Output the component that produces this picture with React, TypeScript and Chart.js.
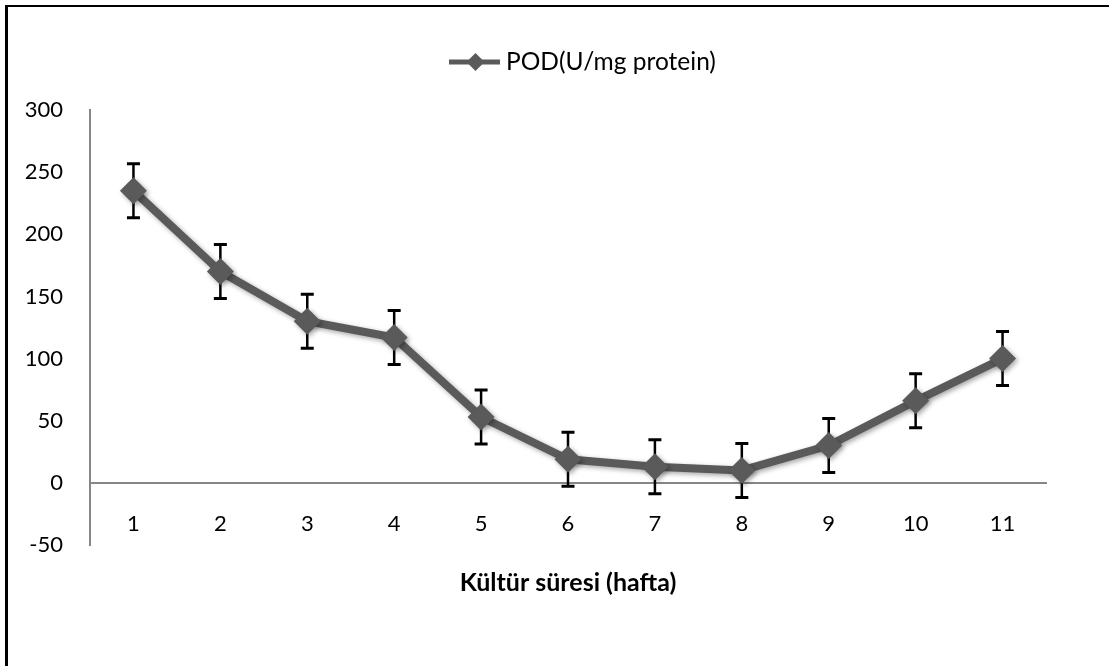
import React, { useEffect, useRef } from "react";
import { Chart, registerables } from "chart.js";

Chart.register(...registerables);

// Culture duration in weeks
const weeks = ["1", "2", "3", "4", "5", "6", "7", "8", "9", "10", "11"];
// POD activity (U/mg protein)
const podValues = [235, 170, 130, 117, 53, 19, 13, 10, 30, 66, 100];
// Standard deviation for each week
const podErrors = [21.7, 21.7, 21.7, 21.7, 21.7, 21.7, 21.7, 21.7, 21.7, 21.7, 21.7];

const seriesLabel = "POD(U/mg protein)";
const xTitle = "Kültür süresi (hafta)";

const FONT = "Lato, 'Open Sans', sans-serif";
const SERIES_COLOR = "#5a5a5a";

// Vertical error bars with caps, drawn under the line and markers
const errorBars = {
  id: "errorBars",
  beforeDatasetsDraw(chart: any) {
    const { ctx, scales } = chart;
    const meta = chart.getDatasetMeta(0);
    ctx.save();
    ctx.strokeStyle = "#000";
    meta.data.forEach((pt: any, i: number) => {
      const x = pt.x;
      const top = scales.y.getPixelForValue(podValues[i] + podErrors[i]);
      const bot = scales.y.getPixelForValue(podValues[i] - podErrors[i]);
      ctx.lineWidth = 2.5;
      ctx.beginPath();
      ctx.moveTo(x, top);
      ctx.lineTo(x, bot);
      ctx.stroke();
      ctx.lineWidth = 3;
      ctx.beginPath();
      ctx.moveTo(x - 6.5, top);
      ctx.lineTo(x + 6.5, top);
      ctx.moveTo(x - 6.5, bot);
      ctx.lineTo(x + 6.5, bot);
      ctx.stroke();
    });
    ctx.restore();
  },
};

// Soft drop shadow under the series line and markers
const seriesShadow = {
  id: "seriesShadow",
  beforeDatasetDraw(chart: any) {
    const ctx = chart.ctx;
    ctx.save();
    ctx.shadowColor = "rgba(0,0,0,0.35)";
    ctx.shadowBlur = 5;
    ctx.shadowOffsetX = 2;
    ctx.shadowOffsetY = 2;
  },
  afterDatasetDraw(chart: any) {
    chart.ctx.restore();
  },
};

// Legend entry above the plot: line sample with a diamond, then the label
const topLegend = {
  id: "topLegend",
  afterDraw(chart: any) {
    const { ctx } = chart;
    const y = 62;
    const x0 = 449;
    const x1 = 500;
    ctx.save();
    ctx.strokeStyle = SERIES_COLOR;
    ctx.lineWidth = 5;
    ctx.beginPath();
    ctx.moveTo(x0, y);
    ctx.lineTo(x1, y);
    ctx.stroke();
    const cx = (x0 + x1) / 2 + 1;
    const r = 9;
    ctx.fillStyle = SERIES_COLOR;
    ctx.beginPath();
    ctx.moveTo(cx, y - r);
    ctx.lineTo(cx + r, y);
    ctx.lineTo(cx, y + r);
    ctx.lineTo(cx - r, y);
    ctx.closePath();
    ctx.fill();
    ctx.fillStyle = "#000";
    ctx.font = `24.5px ${FONT}`;
    ctx.textAlign = "left";
    ctx.textBaseline = "middle";
    ctx.fillText(seriesLabel, 506, y);
    ctx.restore();
  },
};

export default function App() {
  const canvasRef = useRef<HTMLCanvasElement | null>(null);

  useEffect(() => {
    if (!canvasRef.current) return;
    const chart = new Chart(canvasRef.current, {
      type: "line",
      data: {
        labels: weeks,
        datasets: [
          {
            label: seriesLabel,
            data: podValues,
            borderColor: SERIES_COLOR,
            backgroundColor: SERIES_COLOR,
            borderWidth: 8,
            pointStyle: "rectRot",
            pointRadius: 13.5,
            pointBorderWidth: 0,
            pointBackgroundColor: SERIES_COLOR,
            tension: 0,
            clip: false as any,
          },
        ],
      },
      options: {
        animation: false,
        responsive: false,
        devicePixelRatio: 1,
        layout: { padding: { top: 110, right: 63, bottom: 121, left: 0 } },
        plugins: {
          legend: { display: false },
          tooltip: { enabled: false },
        },
        scales: {
          x: {
            type: "category",
            offset: true,
            position: { y: 0 } as any,
            grid: { display: false, drawTicks: false },
            border: { display: true, color: "#868686", width: 2 },
            ticks: {
              color: "#000",
              padding: 28,
              maxRotation: 0,
              font: { family: FONT, size: 22 },
            },
            title: {
              display: true,
              text: xTitle,
              color: "#000",
              padding: { top: 3, bottom: 0 },
              font: { family: FONT, size: 25, weight: "bold" },
            },
          },
          y: {
            min: -50,
            max: 300,
            grid: { display: false, drawTicks: false },
            border: { display: true, color: "#868686", width: 2 },
            ticks: {
              stepSize: 50,
              color: "#000",
              padding: 27,
              font: { family: FONT, size: 22 },
            },
            afterFit(scale: any) {
              scale.width = 90;
            },
          },
        },
      },
      plugins: [errorBars, seriesShadow, topLegend],
    });
    return () => chart.destroy();
  }, []);

  return (
    <div style={{ position: "fixed", left: 0, top: 0, width: 1109, height: 666, overflow: "hidden", background: "#fff" }}>
      <div
        style={{
          position: "absolute",
          left: 5,
          top: 5,
          width: 1104,
          height: 661,
          boxSizing: "border-box",
          borderLeft: "3px solid #000",
          borderTop: "2.5px solid #000",
        }}
      />
      <canvas
        ref={canvasRef}
        width={1109}
        height={666}
        style={{ position: "absolute", left: 0, top: 0, width: 1109, height: 666 }}
      />
    </div>
  );
}
